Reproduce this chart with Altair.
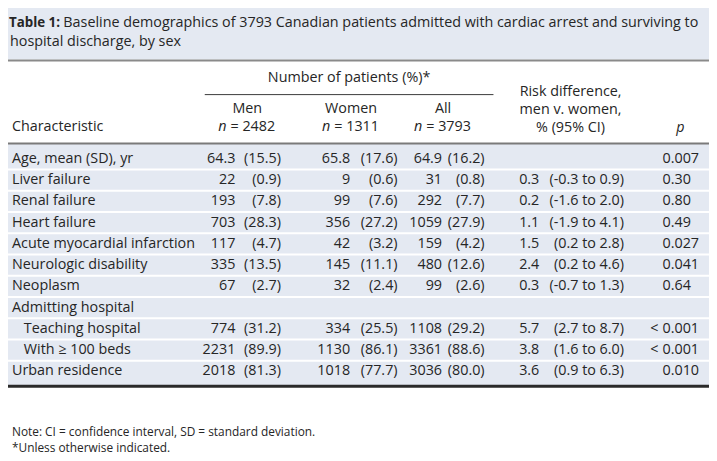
import altair as alt
import pandas as pd

# ---------------- data ----------------
characteristics = ["Age, mean (SD), yr", "Liver failure", "Renal failure", "Heart failure",
                   "Acute myocardial infarction", "Neurologic disability", "Neoplasm",
                   "Admitting hospital", "Teaching hospital", "With \u2265 100 beds", "Urban residence"]
indent = [0, 0, 0, 0, 0, 0, 0, 0, 1, 1, 0]
men_n = ["64.3", "22", "193", "703", "117", "335", "67", "", "774", "2231", "2018"]
men_pct = ["(15.5)", "(0.9)", "(7.8)", "(28.3)", "(4.7)", "(13.5)", "(2.7)", "", "(31.2)", "(89.9)", "(81.3)"]
women_n = ["65.8", "9", "99", "356", "42", "145", "32", "", "334", "1130", "1018"]
women_pct = ["(17.6)", "(0.6)", "(7.6)", "(27.2)", "(3.2)", "(11.1)", "(2.4)", "", "(25.5)", "(86.1)", "(77.7)"]
all_n = ["64.9", "31", "292", "1059", "159", "480", "99", "", "1108", "3361", "3036"]
all_pct = ["(16.2)", "(0.8)", "(7.7)", "(27.9)", "(4.2)", "(12.6)", "(2.6)", "", "(29.2)", "(88.6)", "(80.0)"]
rd_est = ["", "0.3", "0.2", "1.1", "1.5", "2.4", "0.3", "", "5.7", "3.8", "3.6"]
rd_ci = ["", "(-0.3 to 0.9)", "(-1.6 to 2.0)", "(-1.9 to 4.1)", "(0.2 to 2.8)", "(0.2 to 4.6)",
         "(-0.7 to 1.3)", "", "(2.7 to 8.7)", "(1.6 to 6.0)", "(0.9 to 6.3)"]
p_values = ["0.007", "0.30", "0.80", "0.49", "0.027", "0.041", "0.64", "", "< 0.001", "< 0.001", "0.010"]

group_labels = ["Men", "Women", "All"]
group_sizes = ["2482", "1311", "3793"]

title_bold = "Table 1:"
title_line1 = "Baseline demographics of 3793 Canadian patients admitted with cardiac arrest and surviving to"
title_line2 = "hospital discharge, by sex"
spanner = "Number of patients (%)*"
rd_header = ["Risk difference,", "men v. women,", "% (95% CI)"]
notes = ["Note: CI = confidence interval, SD = standard deviation.", "*Unless otherwise indicated."]

# ---------------- layout (pixel units of the picture) ----------------
W, H = 717, 461
M = 8
FONT = "Open Sans"
FS = 14.5
TXT = "#262626"
BG = "#e4e9f2"
ROW0, ROW_H = 158, 21.5
rows_y = [ROW0 + i * ROW_H for i in range(len(characteristics))]
group_cx = [250, 355, 448]
count_right = [238, 354, 447]
pct_right = [284, 402, 490]
RD_LEFT, RD_RIGHT, RD_CX = 525, 631, 577
P_LEFT, P_CX = 670, 688

xs = alt.Scale(domain=[M, W], nice=False, zero=False)
ys = alt.Scale(domain=[M, H], reverse=True, nice=False, zero=False)
X = lambda f: alt.X(f, scale=xs, axis=None)
Y = lambda f: alt.Y(f, scale=ys, axis=None)

# background boxes
rects = pd.DataFrame([
    {"x": 0, "x2": W, "y": 3, "y2": 57.5, "c": BG},
    {"x": 0, "x2": W, "y": 143, "y2": 387, "c": BG},
])
rect_layer = alt.Chart(rects).mark_rect().encode(
    x=X("x:Q"), x2="x2", y=Y("y:Q"), y2="y2", color=alt.Color("c:N", scale=None))

# rules
rules = [
    {"x": 0, "x2": W, "y": 1.5, "c": "#2a2a2a", "w": 3},
    {"x": 0, "x2": W, "y": 58.5, "c": "#8a8a8a", "w": 2},
    {"x": 207, "x2": 499, "y": 93, "c": "#3a3a3a", "w": 1},
    {"x": 0, "x2": W, "y": 142.5, "c": "#7a7a7a", "w": 2},
    {"x": 0, "x2": W, "y": 388, "c": "#2a2a2a", "w": 3},
]
for i in range(len(rows_y) - 1):
    rules.append({"x": 0, "x2": W, "y": (rows_y[i] + rows_y[i + 1]) / 2, "c": "white", "w": 2})
rule_layer = alt.Chart(pd.DataFrame(rules)).mark_rule().encode(
    x=X("x:Q"), x2="x2", y=Y("y:Q"),
    color=alt.Color("c:N", scale=None), strokeWidth=alt.StrokeWidth("w:Q", scale=None))

# text records
left, right, center = [], [], []
italic_right, italic_center, bold_left = [], [], []
small_left = []

for i, y in enumerate(rows_y):
    left.append({"x": 12 + 12 * indent[i], "y": y, "t": characteristics[i]})
    for vals, xr in ((men_n, count_right[0]), (women_n, count_right[1]), (all_n, count_right[2]),
                     (men_pct, pct_right[0]), (women_pct, pct_right[1]), (all_pct, pct_right[2]),
                     (rd_ci, RD_RIGHT)):
        if vals[i]:
            right.append({"x": xr, "y": y, "t": vals[i]})
    if rd_est[i]:
        left.append({"x": RD_LEFT, "y": y, "t": rd_est[i]})
    pv = p_values[i]
    if pv:
        if pv.startswith("<"):
            right.append({"x": P_LEFT - 4, "y": y, "t": "<"})
            pv = pv[1:].strip()
        left.append({"x": P_LEFT, "y": y, "t": pv})

# header
center.append({"x": 353, "y": 76, "t": spanner})
for k, lab in enumerate(group_labels):
    cx = group_cx[k]
    center.append({"x": cx, "y": 107.5, "t": lab})
    italic_right.append({"x": cx - 21, "y": 126, "t": "n"})
    left.append({"x": cx - 17, "y": 126, "t": "= " + group_sizes[k]})
for j, t in enumerate(rd_header):
    center.append({"x": RD_CX, "y": 90 + 18.5 * j, "t": t})
left.append({"x": 12, "y": 126, "t": "Characteristic"})
italic_center.append({"x": P_CX, "y": 127, "t": "p"})

# title
bold_left.append({"x": 9, "y": 21, "t": title_bold})
left.append({"x": 64, "y": 21, "t": title_line1})
left.append({"x": 10, "y": 40, "t": title_line2})

# notes
small_left.append({"x": 12, "y": 434, "t": notes[0]})
small_left.append({"x": 12, "y": 450, "t": notes[1]})


def text_layer(recs, align, size=FS, style="normal", weight="normal"):
    return alt.Chart(pd.DataFrame(recs)).mark_text(
        align=align, baseline="middle", font=FONT, fontSize=size, fontStyle=style,
        fontWeight=weight, color=TXT
    ).encode(x=X("x:Q"), y=Y("y:Q"), text="t:N")


chart = alt.layer(
    rect_layer,
    rule_layer,
    text_layer(left, "left"),
    text_layer(right, "right"),
    text_layer(center, "center"),
    text_layer(italic_right, "right", style="italic"),
    text_layer(italic_center, "center", style="italic"),
    text_layer(bold_left, "left", size=13.5, weight="bold"),
    text_layer(small_left, "left", size=12),
).properties(
    width=W - M, height=H - M,
    autosize=alt.AutoSizeParams(type="none"), padding=0, background="white"
).configure_view(stroke=None)

chart.save("out.html", embed_options={"renderer": "svg", "actions": False})
